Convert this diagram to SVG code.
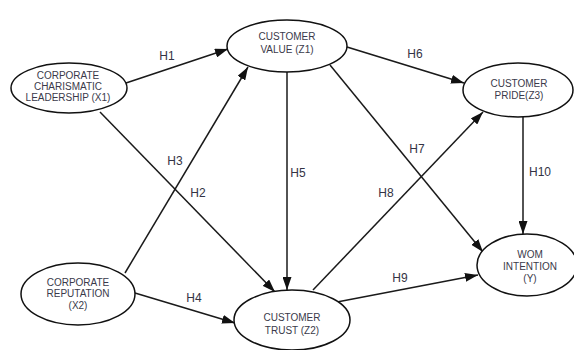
<svg xmlns="http://www.w3.org/2000/svg" width="574" height="350" viewBox="0 0 574 350">
<defs>
<marker id="arr" markerUnits="userSpaceOnUse" markerWidth="13" markerHeight="9" refX="13" refY="4.5" orient="auto">
<path d="M0,0 L13,4.5 L0,9 z" fill="#111"/>
</marker>
<style>
.node ellipse{fill:#fff;stroke:#111;stroke-width:1.5}
.node text{font-family:"Liberation Sans",Arial,sans-serif;font-size:10px;fill:#3a3a4a;text-anchor:middle}
.edge line{stroke:#1a1a1a;stroke-width:1.5;marker-end:url(#arr)}
.lbl{font-family:"Liberation Sans",Arial,sans-serif;font-size:12px;fill:#333344;text-anchor:middle}
</style>
</defs>
<rect width="574" height="350" fill="#fff"/>
<g id="connectors" class="edge">
<line x1="126" y1="83" x2="228" y2="49"/>
<line x1="100" y1="112" x2="275" y2="292"/>
<line x1="125" y1="273" x2="248" y2="67"/>
<line x1="135" y1="293" x2="235" y2="323"/>
<line x1="287" y1="72" x2="287" y2="290"/>
<line x1="330" y1="65" x2="483" y2="252"/>
<line x1="347" y1="47" x2="464" y2="83"/>
<line x1="313" y1="290" x2="483" y2="112"/>
<line x1="337" y1="302" x2="478" y2="275"/>
<line x1="523" y1="117" x2="523" y2="234"/>
</g>
<g id="labels">
<text class="lbl" x="167" y="60">H1</text>
<text class="lbl" x="415" y="58">H6</text>
<text class="lbl" x="175" y="165">H3</text>
<text class="lbl" x="198" y="197">H2</text>
<text class="lbl" x="298" y="177">H5</text>
<text class="lbl" x="417" y="153">H7</text>
<text class="lbl" x="386" y="197">H8</text>
<text class="lbl" x="400" y="282">H9</text>
<text class="lbl" x="194" y="302">H4</text>
<text class="lbl" x="540" y="176">H10</text>
</g>
<g id="X1" class="node">
<ellipse cx="69" cy="88" rx="58" ry="25"/>
<text x="68" y="78.5">CORPORATE</text>
<text x="68" y="89.5">CHARISMATIC</text>
<text x="68" y="100.5">LEADERSHIP (X1)</text>
</g>
<g id="Z1" class="node">
<ellipse cx="287" cy="46" rx="60" ry="26"/>
<text x="287" y="39.5">CUSTOMER</text>
<text x="287" y="52.5">VALUE (Z1)</text>
</g>
<g id="Z3" class="node">
<ellipse cx="518" cy="90" rx="55" ry="27"/>
<text x="519" y="87">CUSTOMER</text>
<text x="519" y="99">PRIDE(Z3)</text>
</g>
<g id="X2" class="node">
<ellipse cx="78" cy="294" rx="57" ry="31"/>
<text x="78" y="286">CORPORATE</text>
<text x="78" y="297">REPUTATION</text>
<text x="78" y="308.5">(X2)</text>
</g>
<g id="Z2" class="node">
<ellipse cx="292" cy="320" rx="58" ry="30"/>
<text x="292" y="320.5">CUSTOMER</text>
<text x="292" y="333.5">TRUST (Z2)</text>
</g>
<g id="Y" class="node">
<ellipse cx="527" cy="265" rx="50" ry="31"/>
<text x="530" y="257.5">WOM</text>
<text x="530" y="269.5">INTENTION</text>
<text x="530" y="282">(Y)</text>
</g>
</svg>
